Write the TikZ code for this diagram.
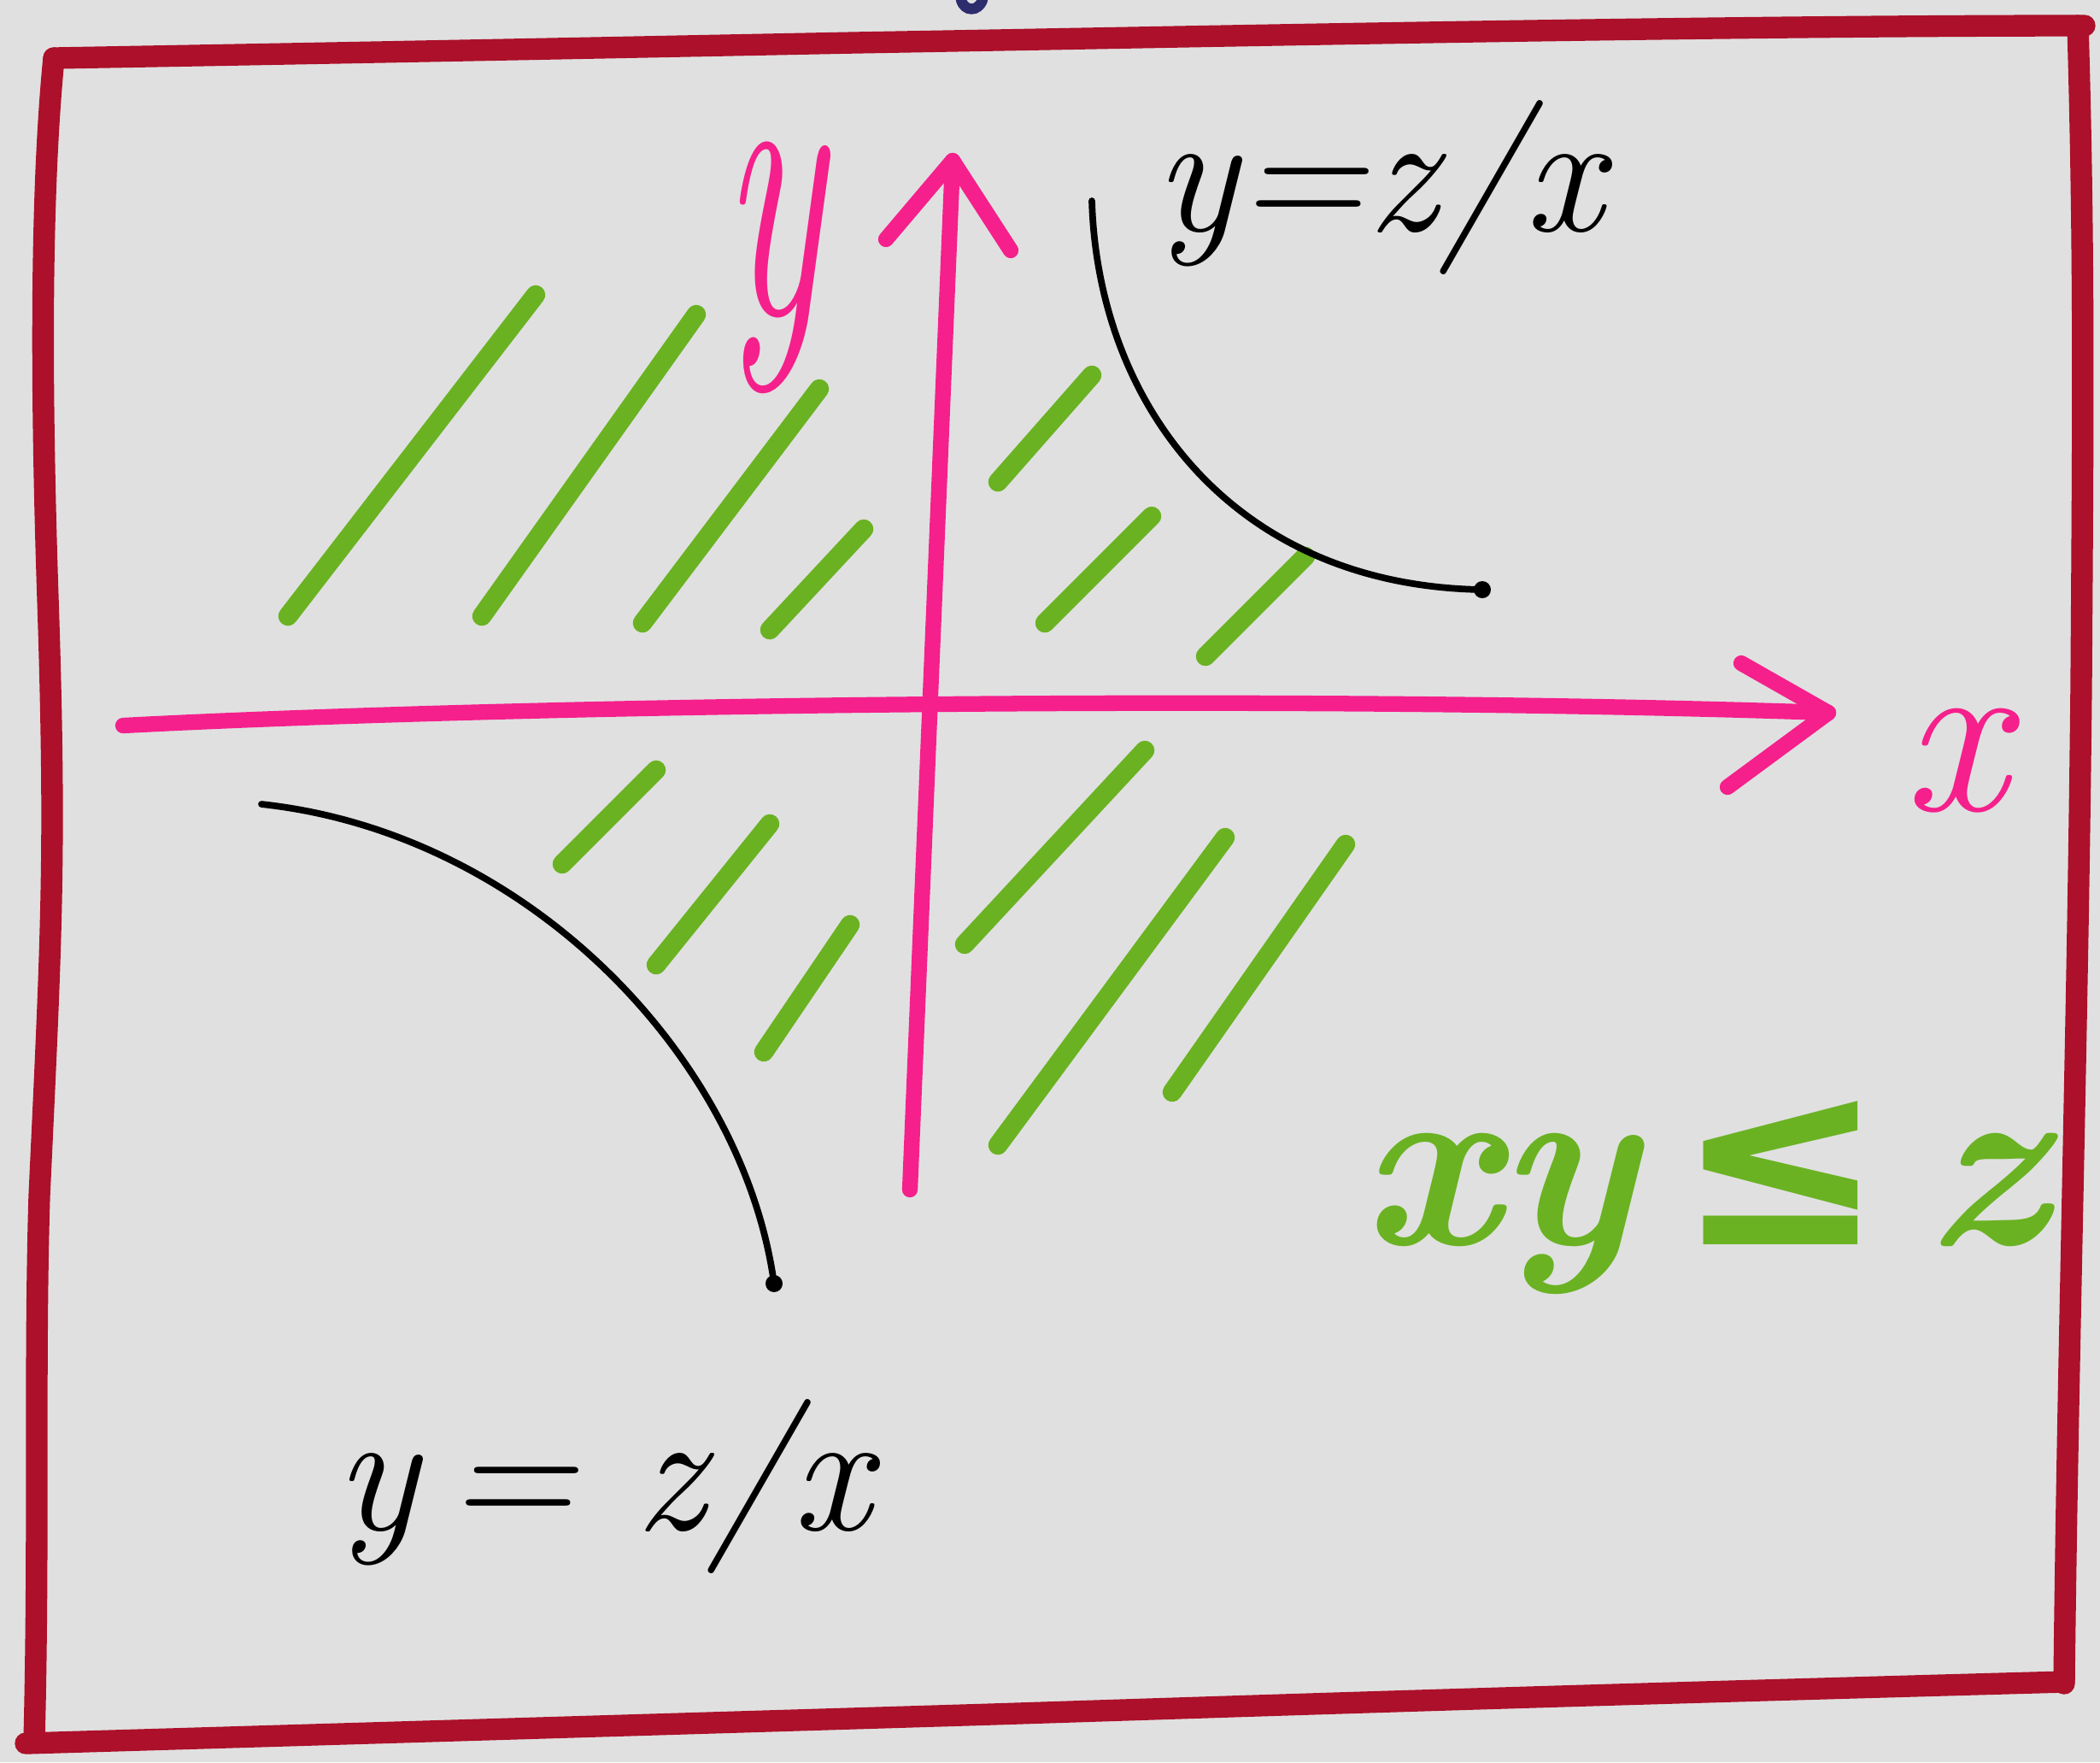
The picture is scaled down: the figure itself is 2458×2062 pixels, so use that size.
\documentclass[tikz,border=0pt]{standalone}
\usepackage{fontspec}
\newfontfamily\symfont{DejaVu Sans}
\definecolor{bgc}{RGB}{224,224,224}
\definecolor{framered}{RGB}{172,16,42}
\definecolor{axpink}{RGB}{245,32,140}
\definecolor{hgreen}{RGB}{106,178,34}
\definecolor{navy}{RGB}{45,45,110}
\tikzset{
  frameline/.style={draw=framered, line width=7.2pt, line cap=round, line join=round},
  axisline/.style={draw=axpink, line width=5.2pt, line cap=round, line join=round},
  hatchline/.style={draw=hgreen, line width=6.4pt, line cap=round},
  curveline/.style={draw=black, line width=2.2pt, line cap=round},
  lbl/.style={inner sep=0pt, outer sep=0pt}
}
\begin{document}
\begin{tikzpicture}[x=0.01cm,y=-0.01cm]
\fill[bgc] (0,0) rectangle (2458,2062);
\useasboundingbox (0,0) rectangle (2458,2062);
% small mark at top
\draw[navy, line width=3.5pt, line cap=round] (1125,0) .. controls (1129,14) and (1145,14) .. (1150,0);
% frame
\draw[frameline] (63,68) .. controls (400,62) and (700,56) .. (1000,50)
  .. controls (1400,43) and (2000,30) .. (2440,30);
\draw[frameline] (2432,30) .. controls (2440,300) and (2438,500) .. (2436,800)
  .. controls (2432,1200) and (2420,1600) .. (2416,1970);
\draw[frameline] (2416,1968) .. controls (1800,1985) and (1500,1995) .. (1160,2006)
  .. controls (700,2020) and (300,2032) .. (30,2040);
\draw[frameline] (40,2038) .. controls (46,1800) and (40,1600) .. (46,1400)
  .. controls (60,1100) and (66,1000) .. (56,700)
  .. controls (46,400) and (50,200) .. (63,68);
% hatches
\foreach \ax/\ay/\bx/\by in {337/721/627/345, 564/721/815/368, 752/729/959/455, 901/737/1011/619,
  1168/564/1278/439, 1223/729/1348/604, 1411/768/1528/651,
  658/1011/768/901, 768/1129/901/964, 894/1231/995/1082,
  1129/1105/1340/878, 1168/1340/1434/980, 1372/1278/1575/988}
  \draw[hatchline] (\ax,\ay) -- (\bx,\by);
% axes
\coordinate (xl) at (144,849);
\coordinate (xr) at (2140,834);
\coordinate (xa1) at (2038,776);
\coordinate (xa2) at (2022,921);
\coordinate (yb) at (1065,1392);
\coordinate (yt) at (1115,188);
\coordinate (ya1) at (1037,280);
\coordinate (ya2) at (1183,293);
\draw[axisline] (xl) .. controls (600,825) and (1500,812) .. (xr);
\draw[axisline] (xa1) -- (xr) -- (xa2);
\draw[axisline] (yb) -- (yt);
\draw[axisline] (ya1) -- (yt) -- (ya2);
\node[lbl, text=axpink, font=\fontsize{77}{80}\selectfont\itshape] (xlab) at (2288,890) {x};
\node[lbl, text=axpink, font=\fontsize{130}{130}\selectfont\itshape, xscale=0.55] (ylab) at (905,313) {y};
% curves
\coordinate (c1s) at (1278,235);
\coordinate (c1e) at (1735,690);
\coordinate (c2s) at (306,941);
\coordinate (c2e) at (906,1502);
\draw[curveline] (c1s) .. controls (1285,470) and (1440,685) .. (c1e);
\fill (c1e) circle (10);
\draw[curveline] (c2s) .. controls (620,975) and (870,1240) .. (c2e);
\fill (c2e) circle (10);
% labels
\node[lbl, anchor=base west, font=\fontsize{58}{60}\selectfont\itshape] (toplab) at (1351,270) {y=z/x};
\node[lbl, anchor=base west, font=\fontsize{58}{60}\selectfont\itshape] (botlab) at (392,1790) {y\,=\,\,z/x};
\node[lbl, anchor=base west, text=hgreen, font=\fontsize{82}{86}\selectfont\bfseries\itshape] (ineq) at (1592,1456) {xy\,{\symfont ≤}\,z};
\end{tikzpicture}
\end{document}
